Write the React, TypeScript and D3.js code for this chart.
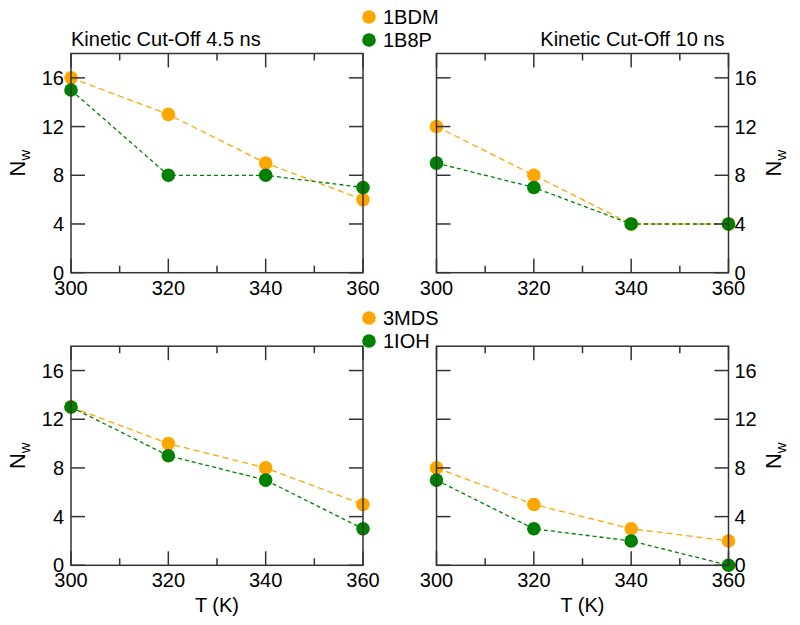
import React from "react";
import * as d3 from "d3";

const temps = [300, 320, 340, 360];
const xTicksMajor = [300, 320, 340, 360];
const xTicksMinor = [310, 330, 350];
const yTicks = [0, 4, 8, 12, 16];

const topLeftA = [16, 13, 9, 6]; // 1BDM
const topLeftB = [15, 8, 8, 7]; // 1B8P
const topRightA = [12, 8, 4, 4];
const topRightB = [9, 7, 4, 4];
const botLeftA = [13, 10, 8, 5]; // 3MDS
const botLeftB = [13, 9, 7, 3]; // 1IOH
const botRightA = [8, 5, 3, 2];
const botRightB = [7, 3, 2, 0];

const topLegend = ["1BDM", "1B8P"];
const botLegend = ["3MDS", "1IOH"];
const titles = ["Kinetic Cut-Off 4.5 ns", "Kinetic Cut-Off 10 ns"];

const ORANGE = "#FFA500";
const GREEN = "#008000";
const AXIS = "#333";
const FONT = "Liberation Sans, Arial, sans-serif";
const FS = 20;

type PanelProps = {
  x0: number; x1: number; y0: number; y1: number;
  a: number[]; b: number[]; side: "left" | "right";
  title?: string; titleAnchor?: "start" | "end"; xlabel?: boolean;
};

function Panel({ x0, x1, y0, y1, a, b, side, title, titleAnchor, xlabel }: PanelProps) {
  const x = d3.scaleLinear().domain([300, 360]).range([x0, x1]);
  const y = d3.scaleLinear().domain([0, 18]).range([y1, y0]);
  const line = d3.line<number>().x((_, i) => x(temps[i])).y((d) => y(d));
  const series = [
    { vals: a, color: ORANGE, dash: "6,4" },
    { vals: b, color: GREEN, dash: "4,3" },
  ];
  return (
    <g>
      {series.map((s, si) => (
        <g key={si}>
          <path d={line(s.vals) || ""} fill="none" stroke={s.color} strokeWidth={1.3} strokeDasharray={s.dash} />
          {s.vals.map((v, i) => (
            <circle key={i} cx={x(temps[i])} cy={y(v)} r={6.8} fill={s.color} />
          ))}
        </g>
      ))}
      <rect x={x0} y={y0} width={x1 - x0} height={y1 - y0} fill="none" stroke={AXIS} strokeWidth={1.5} />
      {xTicksMajor.map((t) => (
        <g key={"M" + t}>
          <line x1={x(t)} x2={x(t)} y1={y1} y2={y1 - 14} stroke={AXIS} strokeWidth={1.5} />
          <line x1={x(t)} x2={x(t)} y1={y0} y2={y0 + 14} stroke={AXIS} strokeWidth={1.5} />
          <text x={x(t)} y={y1 + 22} textAnchor="middle" fontSize={FS} fontFamily={FONT} fill="#000">{t}</text>
        </g>
      ))}
      {xTicksMinor.map((t) => (
        <g key={"m" + t}>
          <line x1={x(t)} x2={x(t)} y1={y1} y2={y1 - 7} stroke={AXIS} strokeWidth={1.5} />
          <line x1={x(t)} x2={x(t)} y1={y0} y2={y0 + 7} stroke={AXIS} strokeWidth={1.5} />
        </g>
      ))}
      {yTicks.map((t) => (
        <g key={"y" + t}>
          <line x1={x0} x2={x0 + 14} y1={y(t)} y2={y(t)} stroke={AXIS} strokeWidth={1.5} />
          <line x1={x1} x2={x1 - 14} y1={y(t)} y2={y(t)} stroke={AXIS} strokeWidth={1.5} />
          <text
            x={side === "left" ? x0 - 7 : x1 + 6}
            y={y(t)}
            dy="0.35em"
            textAnchor={side === "left" ? "end" : "start"}
            fontSize={FS}
            fontFamily={FONT}
            fill="#000"
          >{t}</text>
        </g>
      ))}
      <text
        transform={`translate(${side === "left" ? x0 - 46 : x1 + 52},${(y0 + y1) / 2}) rotate(-90)`}
        textAnchor="middle"
        fontSize={22}
        fontFamily={FONT}
        fill="#000"
      >N<tspan fontSize={15} dy={5}>w</tspan></text>
      {title && (
        <text x={titleAnchor === "end" ? x1 - 4 : x0} y={y0 - 8} textAnchor={titleAnchor} fontSize={FS} fontFamily={FONT} fill="#000">{title}</text>
      )}
      {xlabel && (
        <text x={(x0 + x1) / 2} y={y1 + 47} textAnchor="middle" fontSize={FS} fontFamily={FONT} fill="#000">T (K)</text>
      )}
    </g>
  );
}

function Legend({ labels, cy }: { labels: string[]; cy: number }) {
  const colors = [ORANGE, GREEN];
  return (
    <g>
      {labels.map((l, i) => (
        <g key={l}>
          <circle cx={369} cy={cy + i * 23} r={6.8} fill={colors[i]} />
          <text x={383} y={cy + i * 23} dy="0.36em" fontSize={FS} fontFamily={FONT} fill="#000">{l}</text>
        </g>
      ))}
    </g>
  );
}

export default function App() {
  const L = [71, 363];
  const R = [436.5, 728.5];
  const T = [53.5, 272.7];
  const B = [346.2, 565.3];
  return (
    <svg width={800} height={625} style={{ position: "absolute", left: 0, top: 0, background: "#fff" }}>
      <rect width={800} height={625} fill="#fff" />
      <Panel x0={L[0]} x1={L[1]} y0={T[0]} y1={T[1]} a={topLeftA} b={topLeftB} side="left" title={titles[0]} titleAnchor="start" />
      <Panel x0={R[0]} x1={R[1]} y0={T[0]} y1={T[1]} a={topRightA} b={topRightB} side="right" title={titles[1]} titleAnchor="end" />
      <Panel x0={L[0]} x1={L[1]} y0={B[0]} y1={B[1]} a={botLeftA} b={botLeftB} side="left" xlabel />
      <Panel x0={R[0]} x1={R[1]} y0={B[0]} y1={B[1]} a={botRightA} b={botRightB} side="right" xlabel />
      <Legend labels={topLegend} cy={17} />
      <Legend labels={botLegend} cy={318} />
    </svg>
  );
}
